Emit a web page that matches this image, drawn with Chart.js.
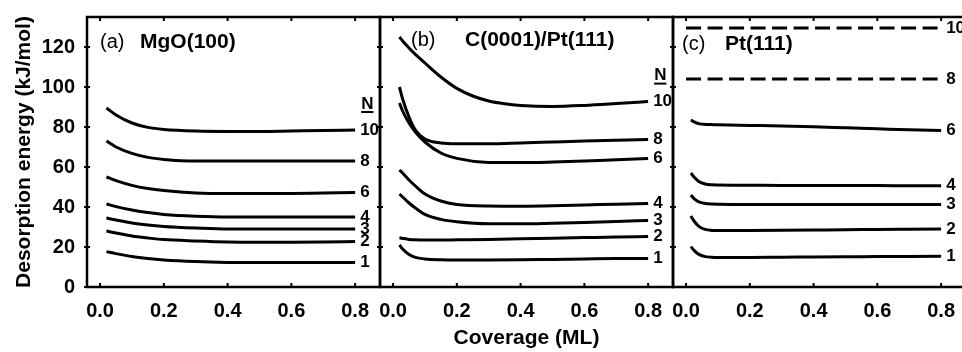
<!DOCTYPE html>
<html>
<head>
<meta charset="utf-8">
<script src="https://cdn.jsdelivr.net/npm/chart.js@4.4.0/dist/chart.umd.min.js"></script>
<style>
  html, body { margin: 0; padding: 0; background: #fff; overflow: hidden; }
  #wrap { position: relative; width: 962px; height: 352px; overflow: hidden; }
  canvas { position: absolute; left: 0; top: 0; }
</style>
</head>
<body>
<div id="wrap">
  <canvas id="chartA" width="962" height="352"></canvas>
  <canvas id="chartB" width="962" height="352"></canvas>
  <canvas id="chartC" width="1000" height="352"></canvas>
</div>
<script>
// ticks and curve names
const xTicks = [0.0, 0.2, 0.4, 0.6, 0.8];
const yTicks = [0, 20, 40, 60, 80, 100, 120];
const nLabels = ['10', '8', '6', '4', '3', '2', '1'];

// (a) MgO(100) -- coverage (ML) vs desorption energy (kJ/mol)
const covA = [0.02, 0.05, 0.1, 0.15, 0.2, 0.3, 0.4, 0.5, 0.6, 0.7, 0.8];
const mgoN10 = [89.5, 86, 82, 79.8, 78.8, 78, 77.8, 77.8, 78, 78.2, 78.5];
const mgoN8  = [73, 70, 66.8, 64.8, 63.8, 63, 63, 63, 63, 63, 63];
const mgoN6  = [55, 53.2, 50.8, 49.2, 48.2, 47, 46.7, 46.7, 46.8, 47, 47.2];
const mgoN4  = [41.5, 40.2, 38.5, 37.2, 36.3, 35.4, 35, 35, 35, 35, 35];
const mgoN3  = [34.5, 33.5, 32, 31, 30.3, 29.5, 29, 29, 29, 29, 29];
const mgoN2  = [28, 27, 25.5, 24.5, 23.7, 23, 22.5, 22.4, 22.4, 22.5, 22.7];
const mgoN1  = [17.7, 16.7, 15.2, 14.2, 13.5, 12.7, 12.3, 12.2, 12.2, 12.2, 12.3];

// (b) C(0001)/Pt(111)
const covB10 = [0.02, 0.03, 0.05, 0.07, 0.1, 0.15, 0.2, 0.25, 0.3, 0.35, 0.4, 0.5, 0.6, 0.7, 0.8];
const cptN10 = [125, 123, 119.5, 116.3, 112, 105, 99.3, 95.5, 93, 91.6, 90.8, 90.3, 90.8, 91.7, 92.7];
const covB = [0.02, 0.03, 0.05, 0.07, 0.1, 0.15, 0.2, 0.3, 0.4, 0.5, 0.6, 0.7, 0.8];
const cptN8  = [100, 94, 85, 78.5, 74, 72, 71.6, 71.6, 72, 72.5, 73, 73.4, 73.8];
const cptN6  = [92, 88, 82, 77.5, 72.5, 67, 64.3, 62.3, 62.2, 62.5, 63, 63.6, 64.2];
const cptN4  = [58.5, 57, 53.5, 50.5, 46.5, 43, 41.3, 40.5, 40.4, 40.6, 41, 41.4, 41.8];
const cptN3  = [46.5, 45, 42, 39.5, 36.3, 33.8, 32.6, 31.6, 31.6, 31.9, 32.3, 32.8, 33.2];
const cptN2  = [24.6, 24.3, 23.8, 23.6, 23.5, 23.5, 23.6, 23.8, 24.1, 24.4, 24.7, 25, 25.2];
const cptN1  = [21, 19, 16.3, 14.8, 14, 13.6, 13.5, 13.5, 13.6, 13.8, 14, 14.2, 14.3];

// (c) Pt(111) -- N=10 and N=8 are flat dashed lines
const covC = [0.015, 0.025, 0.04, 0.06, 0.08, 0.1, 0.2, 0.3, 0.4, 0.5, 0.6, 0.7, 0.8];
const covCflat = [0.0, 0.8];
const ptN10 = [129.5, 129.5];
const ptN8  = [104, 104];
const ptN6  = [83.5, 82.6, 81.7, 81.3, 81.2, 81.1, 80.8, 80.5, 80.1, 79.6, 79.1, 78.6, 78.2];
const ptN4  = [57, 55, 52.8, 51.5, 51.1, 51, 50.9, 50.8, 50.8, 50.7, 50.7, 50.6, 50.6];
const ptN3  = [46, 44.2, 42.6, 41.8, 41.5, 41.4, 41.3, 41.3, 41.3, 41.3, 41.3, 41.3, 41.3];
const ptN2  = [35.5, 33, 30.3, 28.8, 28.3, 28.2, 28.3, 28.4, 28.5, 28.6, 28.8, 28.9, 29];
const ptN1  = [20.2, 18.3, 16.3, 15.2, 14.9, 14.8, 14.8, 14.9, 15, 15.1, 15.2, 15.3, 15.4];

const FONT = 'Arial, "Liberation Sans", sans-serif';

function toPoints(xs, ys) {
    return xs.map((x, i) => ({ x: x, y: ys[i] }));
}

function makeSets(list) {
    return list.map((s, i) => ({
        label: nLabels[i],
        data: toPoints(s.x, s.y),
        borderColor: '#000',
        borderWidth: 3,
        borderDash: s.dash || [],
        pointRadius: 0,
        cubicInterpolationMode: 'monotone',
        fill: false
    }));
}

// frame, inward ticks, curve numbers and panel title
const panelDeco = {
    id: 'panelDeco',
    afterDatasetsDraw(chart, args, opts) {
        const { ctx, chartArea: a, scales: { x, y } } = chart;
        ctx.save();
        ctx.strokeStyle = '#000';
        ctx.fillStyle = '#000';
        ctx.setLineDash([]);

        ctx.lineWidth = 2.5;
        ctx.strokeRect(a.left, a.top, a.right - a.left, a.bottom - a.top);

        ctx.lineWidth = 2;
        ctx.beginPath();
        xTicks.forEach(v => {
            const px = x.getPixelForValue(v);
            ctx.moveTo(px, a.top); ctx.lineTo(px, a.top + 4);
            ctx.moveTo(px, a.bottom); ctx.lineTo(px, a.bottom - 4);
        });
        yTicks.forEach(v => {
            const py = y.getPixelForValue(v);
            [a.left, a.right].forEach(bx => { ctx.moveTo(bx - 3, py); ctx.lineTo(bx + 3, py); });
        });
        ctx.stroke();

        // numbers at the right end of each curve
        ctx.font = 'bold 17px ' + FONT;
        ctx.textBaseline = 'middle';
        ctx.textAlign = 'left';
        let topLabel = null;
        chart.data.datasets.forEach((ds, i) => {
            const pts = chart.getDatasetMeta(i).data;
            const last = pts[pts.length - 1];
            ctx.fillText(ds.label, last.x + 5, last.y);
            if (i === 0) topLabel = last;
        });

        if (opts.showN && topLabel) {
            const nx = topLabel.x + 6, ny = topLabel.y - 26;
            ctx.fillText('N', nx, ny);
            const w = ctx.measureText('N').width;
            ctx.lineWidth = 2;
            ctx.beginPath();
            ctx.moveTo(nx, ny + 8); ctx.lineTo(nx + w, ny + 8);
            ctx.stroke();
        }

        // panel title
        ctx.font = '20px ' + FONT;
        ctx.fillText(opts.tag, a.left + opts.tagDx, opts.titleY);
        ctx.font = 'bold 21px ' + FONT;
        ctx.fillText(opts.name, a.left + opts.nameDx, opts.titleY);
        ctx.restore();
    }
};

function makeChart(id, sets, pad, deco, showY, xTitle) {
    return new Chart(document.getElementById(id), {
        type: 'line',
        data: { datasets: makeSets(sets) },
        plugins: [panelDeco],
        options: {
            responsive: false,
            animation: false,
            layout: { padding: pad },
            plugins: {
                legend: { display: false },
                tooltip: { enabled: false },
                panelDeco: deco
            },
            scales: {
                x: {
                    type: 'linear',
                    min: -0.041,
                    max: 0.878,
                    afterBuildTicks: s => { s.ticks = xTicks.map(v => ({ value: v })); },
                    afterFit: s => { s.height = 65; s.paddingLeft = 0; s.paddingRight = 0; },
                    grid: { display: false, drawTicks: false },
                    border: { display: false },
                    ticks: {
                        autoSkip: false,
                        maxRotation: 0,
                        padding: 12,
                        color: '#000',
                        font: { family: FONT, size: 20, weight: 'bold' },
                        callback: v => v.toFixed(1)
                    },
                    title: {
                        display: !!xTitle,
                        text: xTitle || '',
                        color: '#000',
                        font: { family: FONT, size: 21, weight: 'bold' },
                        padding: { top: 0, bottom: 1.4 }
                    }
                },
                y: {
                    display: showY,
                    min: 0,
                    max: 135,
                    afterBuildTicks: s => { s.ticks = yTicks.map(v => ({ value: v })); },
                    afterFit: s => { s.width = showY ? 87 : 0; s.paddingTop = 0; s.paddingBottom = 0; },
                    grid: { display: false, drawTicks: false },
                    border: { display: false },
                    ticks: {
                        padding: 12,
                        color: '#000',
                        font: { family: FONT, size: 20, weight: 'bold' }
                    },
                    title: {
                        display: true,
                        text: 'Desorption energy (kJ/mol)',
                        color: '#000',
                        font: { family: FONT, size: 21, weight: 'bold' },
                        padding: { top: 11.5, bottom: 0 }
                    }
                }
            }
        }
    });
}

makeChart('chartA', [
    { x: covA, y: mgoN10 }, { x: covA, y: mgoN8 }, { x: covA, y: mgoN6 },
    { x: covA, y: mgoN4 }, { x: covA, y: mgoN3 }, { x: covA, y: mgoN2 }, { x: covA, y: mgoN1 }
], { left: 0, right: 582, top: 17, bottom: 0 },
   { tag: '(a)', name: 'MgO(100)', tagDx: 13, nameDx: 53, titleY: 42, showN: true }, true, null);

makeChart('chartB', [
    { x: covB10, y: cptN10 }, { x: covB, y: cptN8 }, { x: covB, y: cptN6 },
    { x: covB, y: cptN4 }, { x: covB, y: cptN3 }, { x: covB, y: cptN2 }, { x: covB, y: cptN1 }
], { left: 380, right: 289, top: 17, bottom: 0 },
   { tag: '(b)', name: 'C(0001)/Pt(111)', tagDx: 31, nameDx: 85, titleY: 40, showN: true }, false, 'Coverage (ML)');

makeChart('chartC', [
    { x: covCflat, y: ptN10, dash: [15, 6.5] }, { x: covCflat, y: ptN8, dash: [15, 6.5] }, { x: covC, y: ptN6 },
    { x: covC, y: ptN4 }, { x: covC, y: ptN3 }, { x: covC, y: ptN2 }, { x: covC, y: ptN1 }
], { left: 673, right: 34, top: 17, bottom: 0 },
   { tag: '(c)', name: 'Pt(111)', tagDx: 9, nameDx: 52, titleY: 44, showN: false }, false, null);
</script>
</body>
</html>
